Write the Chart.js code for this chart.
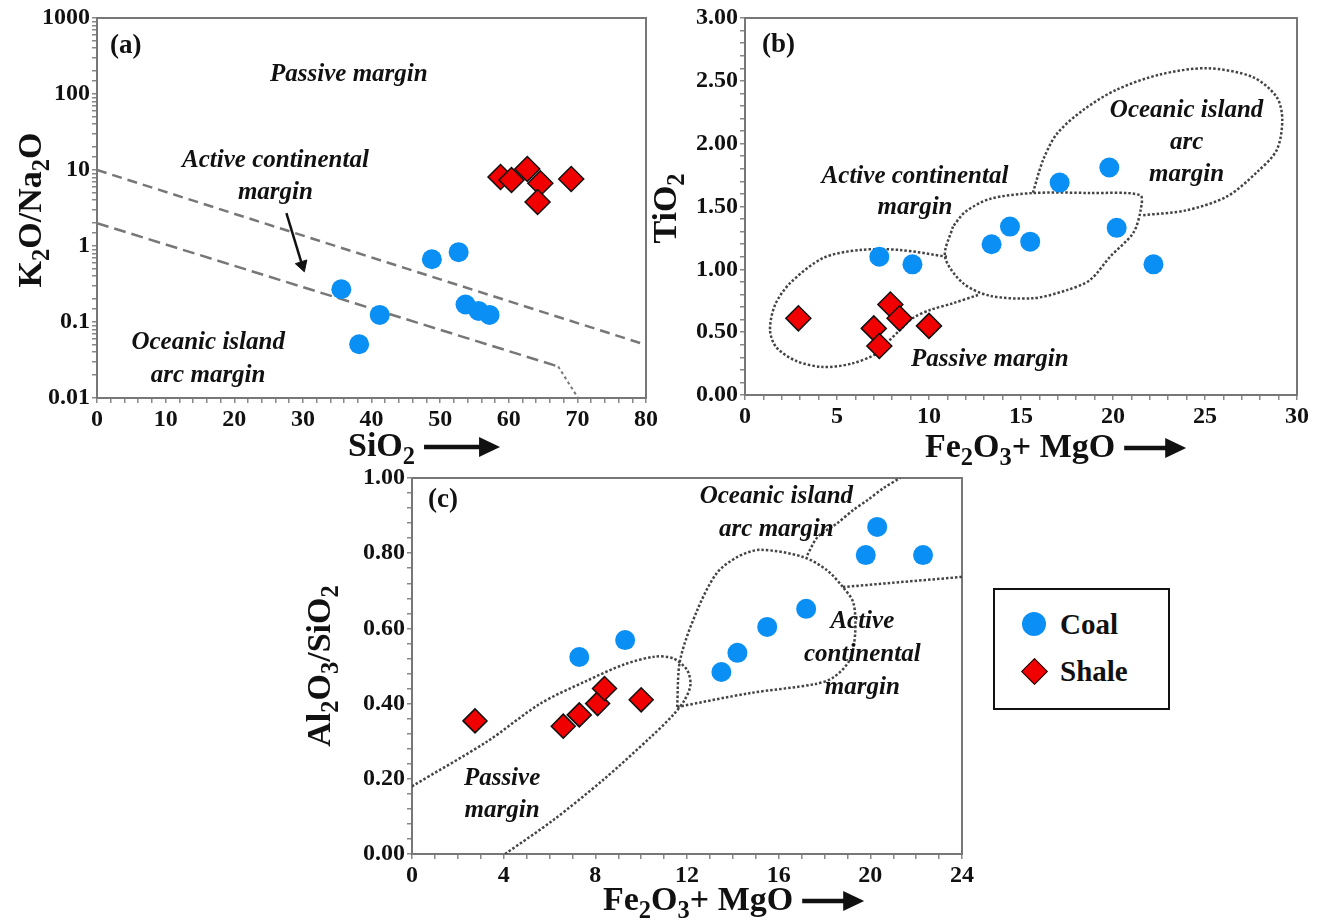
<!DOCTYPE html>
<html>
<head>
<meta charset="utf-8">
<script src="https://cdn.jsdelivr.net/npm/chart.js@4.4.1/dist/chart.umd.min.js"></script>
<style>
html,body{margin:0;padding:0;background:#fff;width:1325px;height:921px;overflow:hidden;}
canvas{position:absolute;}
#cA{left:0;top:0;}
#cB{left:640px;top:0;}
#cC{left:280px;top:460px;}
#legend{position:absolute;left:993px;top:588px;width:173px;height:118px;border:2.5px solid #111;
  font-family:"Liberation Serif","Times New Roman",serif;font-weight:bold;font-size:29px;color:#111;}
.item{position:absolute;left:0;height:36px;line-height:36px;}
.item span{position:absolute;left:65px;top:0;white-space:nowrap;}
.dot{position:absolute;left:27px;top:6px;width:24px;height:24px;border-radius:50%;background:#0a8ff5;}
.dia{position:absolute;left:30px;top:9px;width:17px;height:17px;background:#f00000;border:1.5px solid #111;transform:rotate(45deg);}
</style>
</head>
<body>
<canvas id="cA" width="660" height="465"></canvas>
<canvas id="cB" width="685" height="465"></canvas>
<canvas id="cC" width="710" height="461"></canvas>
<div id="legend">
  <div class="item" style="top:16px"><div class="dot"></div><span>Coal</span></div>
  <div class="item" style="top:63px"><div class="dia"></div><span>Shale</span></div>
</div>
<script>
// ===== Panel (a): K2O/Na2O vs SiO2 =====
const coalA_SiO2      = [35.6, 38.2, 41.2, 48.8, 52.7, 53.7, 55.6, 57.2];
const coalA_K2O_Na2O  = [0.27, 0.051, 0.124, 0.67, 0.83, 0.17, 0.14, 0.124];
const shaleA_SiO2     = [58.8, 60.4, 62.7, 64.6, 64.2, 69.1];
const shaleA_K2O_Na2O = [8.1, 7.4, 10.3, 6.7, 3.8, 7.6];
const boundA1_x = [0, 80];       const boundA1_y = [10, 0.05];
const boundA2_x = [0, 67.2];     const boundA2_y = [2.0, 0.026];
const boundA3_x = [67.2, 70.1];  const boundA3_y = [0.026, 0.01];
const arrowA_x  = [27.6, 29.9];  const arrowA_y  = [2.7, 0.56];
const ticksA_x  = [0, 10, 20, 30, 40, 50, 60, 70, 80];
const ticksA_y  = [0.01, 0.1, 1, 10, 100, 1000];

// ===== Panel (b): TiO2 vs Fe2O3+MgO =====
const coalB_FeMg  = [7.3, 9.1, 13.4, 14.4, 15.5, 20.2, 22.2, 17.1, 19.8];
const coalB_TiO2  = [1.10, 1.04, 1.20, 1.34, 1.22, 1.33, 1.04, 1.69, 1.81];
const shaleB_FeMg = [2.9, 7.0, 7.9, 8.4, 7.3, 10.0];
const shaleB_TiO2 = [0.61, 0.53, 0.72, 0.61, 0.39, 0.55];
const passiveB_x = [12.66, 11.3, 10.05, 9.13, 8.42, 7.72, 7.23, 5.8, 4.24, 2.8, 1.7, 1.36, 1.63, 2.45, 4.24, 6.25, 8.42, 10.98];
const passiveB_y = [0.796, 0.73, 0.676, 0.613, 0.517, 0.414, 0.334, 0.25, 0.223, 0.27, 0.38, 0.517, 0.716, 0.89, 1.09, 1.154, 1.154, 1.10];
const activeB_x  = [11.3, 10.87, 11.85, 13.3, 15.65, 17.5, 18.75, 19.84, 21.1, 21.5, 21.47, 18.75, 15.65, 13.3, 11.96, 11.3];
const activeB_y  = [1.34, 1.10, 0.89, 0.79, 0.77, 0.835, 0.915, 1.10, 1.29, 1.47, 1.59, 1.607, 1.607, 1.56, 1.456, 1.34];
const oceanicB_x = [15.65, 16.2, 16.96, 18.4, 20.2, 22.55, 25.1, 27.6, 28.9, 29.2, 28.9, 27.8, 26.2, 24.0, 21.6];
const oceanicB_y = [1.61, 1.87, 2.08, 2.27, 2.43, 2.55, 2.60, 2.53, 2.37, 2.19, 1.95, 1.77, 1.58, 1.47, 1.43];
const ticksB_x = [0, 5, 10, 15, 20, 25, 30];
const ticksB_y = [0, 0.5, 1, 1.5, 2, 2.5, 3];

// ===== Panel (c): Al2O3/SiO2 vs Fe2O3+MgO =====
const coalC_FeMg   = [7.3, 9.3, 13.5, 14.2, 15.5, 17.2, 20.3, 19.8, 22.3];
const coalC_AlSi   = [0.524, 0.569, 0.484, 0.535, 0.604, 0.652, 0.870, 0.795, 0.795];
const shaleC_FeMg  = [2.75, 6.6, 7.3, 8.1, 8.4, 10.0];
const shaleC_AlSi  = [0.354, 0.34, 0.37, 0.40, 0.44, 0.41];
const passiveC_x = [0, 3.3, 5.6, 7.6, 9.3, 10.6, 11.4, 12.0, 12.15, 11.9, 11.4, 10.4, 8.34, 6.16, 4.06];
const passiveC_y = [0.18, 0.30, 0.40, 0.46, 0.505, 0.525, 0.52, 0.49, 0.45, 0.41, 0.37, 0.31, 0.197, 0.09, 0];
const activeC_x  = [11.57, 11.7, 12.45, 13.3, 14.2, 15.2, 17.07, 18.1, 18.8, 19.26, 19.34, 19.1, 18.4, 17.6, 14.76, 11.57];
const activeC_y  = [0.391, 0.516, 0.649, 0.747, 0.79, 0.809, 0.79, 0.755, 0.71, 0.668, 0.588, 0.516, 0.47, 0.452, 0.428, 0.391];
const oceanicC1_x = [18.8, 24];   const oceanicC1_y = [0.71, 0.737];
const oceanicC2_x = [17.25, 17.7, 18.56, 19.26, 19.87, 20.57, 21.3];
const oceanicC2_y = [0.795, 0.843, 0.88, 0.915, 0.941, 0.973, 1.0];
const ticksC_x = [0, 4, 8, 12, 16, 20, 24];
const ticksC_y = [0, 0.2, 0.4, 0.6, 0.8, 1.0];

// ===== styling =====
const SERIF = '"Liberation Serif","Times New Roman",serif';
const COAL = '#0a8ff5', SHALE = '#f00000', INK = '#111', DOT = '#444';
const TITLE_SIZE = 34;
Chart.defaults.font.family = SERIF;

const pts = (xs, ys) => xs.map((x, i) => ({x, y: ys[i]}));
const isIn = (v, arr) => arr.some(a => Math.abs(a - v) < 1e-7);

function coalSet(xs, ys){ return {label:'Coal', data:pts(xs,ys), pointStyle:'circle', pointRadius:10, pointHoverRadius:10,
  backgroundColor:COAL, borderWidth:0, order:0}; }
function shaleSet(xs, ys, r){ return {label:'Shale', data:pts(xs,ys), pointStyle:'rectRot', pointRadius:r, pointHoverRadius:r,
  backgroundColor:SHALE, borderColor:INK, borderWidth:1.5, order:0}; }
function lineSet(xs, ys, dash, width, tension, color){ return {label:'boundary', data:pts(xs,ys), showLine:true, pointRadius:0,
  borderColor:color||'#666', borderWidth:width, borderDash:dash, tension:tension, fill:false, order:2}; }

function scaleOpts(type, min, max, step, majors, fmt, axis, fit){
  const o = {
    type, min, max,
    border:{display:true, color:'#777', width:2},
    grid:{display:true, drawOnChartArea:false, drawTicks:true, tickLength:5, color:'#888', lineWidth:1.5},
    ticks:{autoSkip:false, maxRotation:0, padding:2, color:INK, font:{size:24, weight:'bold', family:SERIF},
      callback:(v) => isIn(v, majors) ? fmt(v) : ''},
    afterFit:(s) => { if (axis === 'x') s.height = fit; else s.width = fit; }
  };
  if (step) o.ticks.stepSize = step;
  return o;
}

// rich text with subscripts
function drawRich(ctx, segs, x, y, size, align){
  let total = 0;
  const ws = segs.map(s => { ctx.font = `bold ${s[1] ? size*0.72 : size}px ${SERIF}`; const w = ctx.measureText(s[0]).width; total += w; return w; });
  let cx = align === 'center' ? x - total/2 : x;
  ctx.textBaseline = 'alphabetic'; ctx.textAlign = 'left'; ctx.fillStyle = INK;
  segs.forEach((s, i) => {
    ctx.font = `bold ${s[1] ? size*0.72 : size}px ${SERIF}`;
    ctx.fillText(s[0], cx, y + size*0.33 + (s[1] ? size*0.22 : 0));
    cx += ws[i];
  });
  return cx;
}

const decorPlugin = {
  id:'decor',
  beforeDatasetsDraw(chart, args, opts){
    const {ctx, chartArea:a} = chart;
    ctx.save(); ctx.strokeStyle = '#777'; ctx.lineWidth = 2;
    ctx.strokeRect(a.left, a.top, a.right - a.left, a.bottom - a.top);
    ctx.restore();
  },
  afterDatasetsDraw(chart, args, opts){
    const {ctx, chartArea:a, scales} = chart;
    ctx.save();
    ctx.font = `bold 27px ${SERIF}`; ctx.fillStyle = INK; ctx.textAlign = 'left'; ctx.textBaseline = 'middle';
    ctx.fillText(opts.panel, a.left + opts.panelDx, a.top + opts.panelDy);
    ctx.font = `italic bold ${opts.labelSize}px ${SERIF}`; ctx.textAlign = 'center';
    (opts.labels || []).forEach(l => {
      const px = scales.x.getPixelForValue(l.x), py = scales.y.getPixelForValue(l.y);
      l.lines.forEach((t, i) => ctx.fillText(t, px, py + i * l.lh));
    });
    const xt = opts.xTitle;
    const endX = drawRich(ctx, xt.segs, a.left + xt.dx, a.bottom + xt.dy, TITLE_SIZE, 'left');
    const ax0 = endX + 9, ax1 = ax0 + xt.arrow;
    const ay = a.bottom + xt.dy + 2;
    ctx.strokeStyle = INK; ctx.lineWidth = 4.5; ctx.beginPath(); ctx.moveTo(ax0, ay); ctx.lineTo(ax1 - 16, ay); ctx.stroke();
    ctx.fillStyle = INK; ctx.beginPath(); ctx.moveTo(ax1, ay); ctx.lineTo(ax1 - 21, ay - 10); ctx.lineTo(ax1 - 21, ay + 10); ctx.closePath(); ctx.fill();
    const yt = opts.yTitle;
    ctx.save(); ctx.translate(a.left - yt.dx, (a.top + a.bottom)/2 + yt.dy); ctx.rotate(-Math.PI/2);
    drawRich(ctx, yt.segs, 0, 0, TITLE_SIZE, 'center');
    ctx.restore();
    ctx.restore();
  }
};

function baseOptions(xScale, yScale, pad, decor){
  return {
    responsive:false, animation:false, devicePixelRatio:1,
    layout:{padding:pad},
    scales:{x:xScale, y:yScale},
    plugins:{legend:{display:false}, tooltip:{enabled:false}, decor}
  };
}

const fmt2 = v => v.toFixed(2);
const fmtInt = v => String(Math.round(v));
const fmtLog = v => { const l = Math.round(Math.log10(v)); return l < 0 ? v.toFixed(-l) : String(Math.round(v)); };

// ----- Chart (a) -----
new Chart(document.getElementById('cA'), {
  type:'scatter',
  plugins:[decorPlugin],
  data:{datasets:[
    coalSet(coalA_SiO2, coalA_K2O_Na2O),
    shaleSet(shaleA_SiO2, shaleA_K2O_Na2O, 12.5),
    lineSet(boundA1_x, boundA1_y, [10,6], 2.5, 0, '#777'),
    lineSet(boundA2_x, boundA2_y, [12,6], 2.5, 0, '#777'),
    lineSet(boundA3_x, boundA3_y, [3,3], 2, 0, '#777'),
    lineSet(arrowA_x, arrowA_y, [], 2.5, 0, INK),
    {label:'arrowhead', data:[{x:arrowA_x[1], y:arrowA_y[1]}], pointStyle:'triangle', pointRadius:7, pointRotation:162,
      backgroundColor:INK, borderColor:INK, borderWidth:1, order:1}
  ]},
  options: baseOptions(
    scaleOpts('linear', 0, 80, 2, ticksA_x, fmtInt, 'x', 67),
    scaleOpts('logarithmic', 0.01, 1000, null, ticksA_y, fmtLog, 'y', 97),
    {top:18, right:12, left:0, bottom:0},
    {panel:'(a)', panelDx:13, panelDy:28, labelSize:25,
     labels:[
       {x:36.7, y:178, lh:0, lines:['Passive margin']},
       {x:26, y:13.5, lh:32, lines:['Active continental','margin']},
       {x:16.2, y:0.053, lh:33, lines:['Oceanic island','arc margin']}
     ],
     xTitle:{segs:[['SiO',0],['2',1]], dx:251, dy:47, arrow:76},
     yTitle:{segs:[['K',0],['2',1],['O/Na',0],['2',1],['O',0]], dx:67, dy:2}})
});

// ----- Chart (b) -----
new Chart(document.getElementById('cB'), {
  type:'scatter',
  plugins:[decorPlugin],
  data:{datasets:[
    coalSet(coalB_FeMg, coalB_TiO2),
    shaleSet(shaleB_FeMg, shaleB_TiO2, 12.5),
    lineSet(passiveB_x, passiveB_y, [2.5,2], 2.5, 0.3, DOT),
    lineSet(activeB_x, activeB_y, [2.5,2], 2.5, 0.3, DOT),
    lineSet(oceanicB_x, oceanicB_y, [2.5,2], 2.5, 0.3, DOT)
  ]},
  options: baseOptions(
    scaleOpts('linear', 0, 30, 1, ticksB_x, fmtInt, 'x', 70),
    scaleOpts('linear', 0, 3, 0.1, ticksB_y, fmt2, 'y', 105),
    {top:18, right:28, left:0, bottom:0},
    {panel:'(b)', panelDx:17, panelDy:27, labelSize:25,
     labels:[
       {x:24.0, y:2.26, lh:32, lines:['Oceanic island','arc','margin']},
       {x:9.24, y:1.74, lh:31, lines:['Active continental','margin']},
       {x:13.3, y:0.28, lh:0, lines:['Passive margin']}
     ],
     xTitle:{segs:[['Fe',0],['2',1],['O',0],['3',1],['+ MgO',0]], dx:180, dy:51, arrow:62},
     yTitle:{segs:[['TiO',0],['2',1]], dx:80, dy:2}})
});

// ----- Chart (c) -----
new Chart(document.getElementById('cC'), {
  type:'scatter',
  plugins:[decorPlugin],
  data:{datasets:[
    coalSet(coalC_FeMg, coalC_AlSi),
    shaleSet(shaleC_FeMg, shaleC_AlSi, 12),
    lineSet(passiveC_x, passiveC_y, [2.5,2], 2.5, 0.3, DOT),
    lineSet(activeC_x, activeC_y, [2.5,2], 2.5, 0.3, DOT),
    lineSet(oceanicC1_x, oceanicC1_y, [2.5,2], 2.5, 0, DOT),
    lineSet(oceanicC2_x, oceanicC2_y, [2.5,2], 2.5, 0.3, DOT)
  ]},
  options: baseOptions(
    scaleOpts('linear', 0, 24, 1, ticksC_x, fmtInt, 'x', 67),
    scaleOpts('linear', 0, 1, 0.04, ticksC_y, fmt2, 'y', 132),
    {top:18, right:28, left:0, bottom:0},
    {panel:'(c)', panelDx:16, panelDy:22, labelSize:25,
     labels:[
       {x:15.9, y:0.95, lh:33, lines:['Oceanic island','arc margin']},
       {x:19.65, y:0.617, lh:33, lines:['Active','continental','margin']},
       {x:3.93, y:0.202, lh:32, lines:['Passive','margin']}
     ],
     xTitle:{segs:[['Fe',0],['2',1],['O',0],['3',1],['+ MgO',0]], dx:191, dy:45, arrow:62},
     yTitle:{segs:[['Al',0],['2',1],['O',0],['3',1],['/SiO',0],['2',1]], dx:93, dy:0}})
});
</script>
</body>
</html>
